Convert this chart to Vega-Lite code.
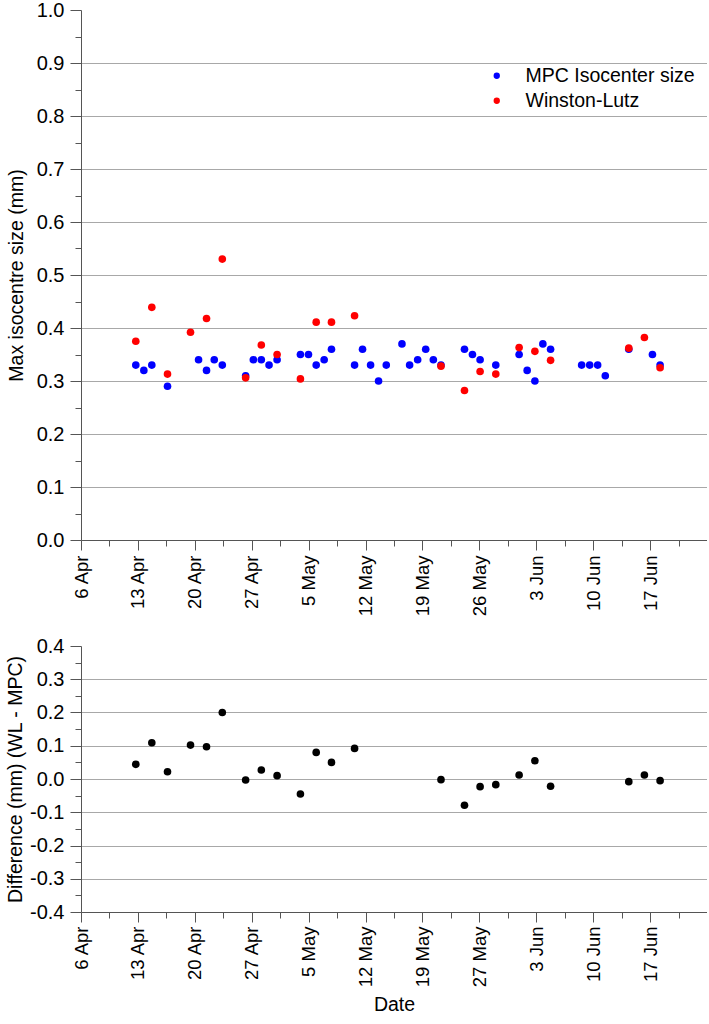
{
  "$schema": "https://vega.github.io/schema/vega-lite/v6.json",
  "padding": {"left": 5, "top": 0, "right": 0, "bottom": 0},
  "spacing": 20,
  "config": {
    "font": "Liberation Sans",
    "view": {"stroke": null},
    "axis": {
      "domainColor": "#555555",
      "tickColor": "#555555",
      "gridColor": "#a8a8a8",
      "gridWidth": 1.2,
      "labelFontSize": 19,
      "titleFontSize": 19.5,
      "labelColor": "#000000",
      "titleColor": "#000000",
      "titleFontWeight": "normal",
      "labelFont": "Liberation Sans",
      "titleFont": "Liberation Sans"
    }
  },
  "datasets": {
    "iso": [
      {"day": 6.74, "series": "MPC Isocenter size", "value": 0.33},
      {"day": 7.73, "series": "MPC Isocenter size", "value": 0.32},
      {"day": 8.71, "series": "MPC Isocenter size", "value": 0.33},
      {"day": 10.64, "series": "MPC Isocenter size", "value": 0.29},
      {"day": 14.46, "series": "MPC Isocenter size", "value": 0.34},
      {"day": 15.44, "series": "MPC Isocenter size", "value": 0.32},
      {"day": 16.39, "series": "MPC Isocenter size", "value": 0.34},
      {"day": 17.38, "series": "MPC Isocenter size", "value": 0.33},
      {"day": 20.25, "series": "MPC Isocenter size", "value": 0.31},
      {"day": 21.2, "series": "MPC Isocenter size", "value": 0.34},
      {"day": 22.18, "series": "MPC Isocenter size", "value": 0.34},
      {"day": 23.13, "series": "MPC Isocenter size", "value": 0.33},
      {"day": 24.12, "series": "MPC Isocenter size", "value": 0.34},
      {"day": 26.99, "series": "MPC Isocenter size", "value": 0.35},
      {"day": 27.98, "series": "MPC Isocenter size", "value": 0.35},
      {"day": 28.93, "series": "MPC Isocenter size", "value": 0.33},
      {"day": 29.91, "series": "MPC Isocenter size", "value": 0.34},
      {"day": 30.81, "series": "MPC Isocenter size", "value": 0.36},
      {"day": 33.65, "series": "MPC Isocenter size", "value": 0.33},
      {"day": 34.63, "series": "MPC Isocenter size", "value": 0.36},
      {"day": 35.62, "series": "MPC Isocenter size", "value": 0.33},
      {"day": 36.6, "series": "MPC Isocenter size", "value": 0.30},
      {"day": 37.55, "series": "MPC Isocenter size", "value": 0.33},
      {"day": 39.48, "series": "MPC Isocenter size", "value": 0.37},
      {"day": 40.42, "series": "MPC Isocenter size", "value": 0.33},
      {"day": 41.41, "series": "MPC Isocenter size", "value": 0.34},
      {"day": 42.4, "series": "MPC Isocenter size", "value": 0.36},
      {"day": 43.34, "series": "MPC Isocenter size", "value": 0.34},
      {"day": 44.28, "series": "MPC Isocenter size", "value": 0.33},
      {"day": 47.17, "series": "MPC Isocenter size", "value": 0.36},
      {"day": 48.15, "series": "MPC Isocenter size", "value": 0.35},
      {"day": 49.09, "series": "MPC Isocenter size", "value": 0.34},
      {"day": 51.02, "series": "MPC Isocenter size", "value": 0.33},
      {"day": 53.89, "series": "MPC Isocenter size", "value": 0.35},
      {"day": 54.88, "series": "MPC Isocenter size", "value": 0.32},
      {"day": 55.83, "series": "MPC Isocenter size", "value": 0.30},
      {"day": 56.81, "series": "MPC Isocenter size", "value": 0.37},
      {"day": 57.76, "series": "MPC Isocenter size", "value": 0.36},
      {"day": 61.58, "series": "MPC Isocenter size", "value": 0.33},
      {"day": 62.57, "series": "MPC Isocenter size", "value": 0.33},
      {"day": 63.55, "series": "MPC Isocenter size", "value": 0.33},
      {"day": 64.49, "series": "MPC Isocenter size", "value": 0.31},
      {"day": 67.38, "series": "MPC Isocenter size", "value": 0.36},
      {"day": 70.29, "series": "MPC Isocenter size", "value": 0.35},
      {"day": 71.23, "series": "MPC Isocenter size", "value": 0.33},
      {"day": 6.74, "series": "Winston-Lutz", "value": 0.375},
      {"day": 8.71, "series": "Winston-Lutz", "value": 0.439},
      {"day": 10.64, "series": "Winston-Lutz", "value": 0.313},
      {"day": 13.47, "series": "Winston-Lutz", "value": 0.392},
      {"day": 15.44, "series": "Winston-Lutz", "value": 0.418},
      {"day": 17.38, "series": "Winston-Lutz", "value": 0.53},
      {"day": 20.25, "series": "Winston-Lutz", "value": 0.306},
      {"day": 22.18, "series": "Winston-Lutz", "value": 0.368},
      {"day": 24.12, "series": "Winston-Lutz", "value": 0.35},
      {"day": 26.99, "series": "Winston-Lutz", "value": 0.304},
      {"day": 28.93, "series": "Winston-Lutz", "value": 0.411},
      {"day": 30.81, "series": "Winston-Lutz", "value": 0.411},
      {"day": 33.65, "series": "Winston-Lutz", "value": 0.423},
      {"day": 44.28, "series": "Winston-Lutz", "value": 0.328},
      {"day": 47.17, "series": "Winston-Lutz", "value": 0.282},
      {"day": 49.09, "series": "Winston-Lutz", "value": 0.318},
      {"day": 51.02, "series": "Winston-Lutz", "value": 0.313},
      {"day": 53.89, "series": "Winston-Lutz", "value": 0.363},
      {"day": 55.83, "series": "Winston-Lutz", "value": 0.356},
      {"day": 57.76, "series": "Winston-Lutz", "value": 0.339},
      {"day": 67.38, "series": "Winston-Lutz", "value": 0.362},
      {"day": 69.3, "series": "Winston-Lutz", "value": 0.382},
      {"day": 71.23, "series": "Winston-Lutz", "value": 0.325}
    ],
    "diff": [
      {"day": 6.74, "diff": 0.044},
      {"day": 8.71, "diff": 0.109},
      {"day": 10.64, "diff": 0.022},
      {"day": 13.47, "diff": 0.102},
      {"day": 15.44, "diff": 0.097},
      {"day": 17.38, "diff": 0.2},
      {"day": 20.25, "diff": -0.003},
      {"day": 22.18, "diff": 0.027},
      {"day": 24.12, "diff": 0.01},
      {"day": 26.99, "diff": -0.045},
      {"day": 28.93, "diff": 0.08},
      {"day": 30.81, "diff": 0.05},
      {"day": 33.65, "diff": 0.092},
      {"day": 44.28, "diff": -0.002},
      {"day": 47.17, "diff": -0.079},
      {"day": 49.09, "diff": -0.023},
      {"day": 51.02, "diff": -0.017},
      {"day": 53.89, "diff": 0.012},
      {"day": 55.83, "diff": 0.055},
      {"day": 57.76, "diff": -0.022},
      {"day": 67.38, "diff": -0.008},
      {"day": 69.3, "diff": 0.012},
      {"day": 71.23, "diff": -0.005}
    ]
  },
  "vconcat": [
    {
      "width": 626,
      "height": 530,
      "data": {"name": "iso"},
      "mark": {"type": "circle", "size": 58, "opacity": 1},
      "encoding": {
        "x": {
          "field": "day",
          "type": "quantitative",
          "scale": {"domain": [0, 77], "nice": false, "zero": false},
          "axis": {
            "title": null,
            "grid": false,
            "values": [0, 3.5, 7, 10.5, 14, 17.5, 21, 24.5, 28, 31.5, 35, 38.5, 42, 45.5, 49, 52.5, 56, 59.5, 63, 66.5, 70, 73.5],
            "labelExpr": "datum.value % 7 == 0 ? ['6 Apr','13 Apr','20 Apr','27 Apr','5 May','12 May','19 May','26 May','3 Jun','10 Jun','17 Jun'][datum.value / 7] : ''",
            "labelAngle": 270,
            "labelAlign": "right",
            "labelBaseline": "middle",
            "labelFontSize": 18.5,
            "labelPadding": 5,
            "tickSize": {"condition": {"test": "datum.value % 7 == 0", "value": 10}, "value": 6}
          }
        },
        "y": {
          "field": "value",
          "type": "quantitative",
          "scale": {"domain": [0, 1], "nice": false},
          "axis": {
            "title": "Max isocentre size (mm)",
            "titlePadding": 10,
            "labelFontSize": 20,
            "values": [0, 0.05, 0.1, 0.15, 0.2, 0.25, 0.3, 0.35, 0.4, 0.45, 0.5, 0.55, 0.6, 0.65, 0.7, 0.75, 0.8, 0.85, 0.9, 0.95, 1.0],
            "labelExpr": "abs(datum.value * 10 - round(datum.value * 10)) < 0.01 ? format(datum.value, '.1f') : ''",
            "labelPadding": 6,
            "grid": true,
            "gridOpacity": {"condition": {"test": "abs(datum.value * 10 - round(datum.value * 10)) < 0.01 && datum.value > 0.01 && datum.value < 0.99", "value": 1}, "value": 0},
            "tickSize": {"condition": {"test": "abs(datum.value * 10 - round(datum.value * 10)) < 0.01", "value": 11}, "value": 6}
          }
        },
        "color": {
          "field": "series",
          "type": "nominal",
          "scale": {"domain": ["MPC Isocenter size", "Winston-Lutz"], "range": ["#0000ff", "#ff0000"]},
          "legend": {
            "title": null,
            "orient": "none",
            "legendX": 406,
            "legendY": 56,
            "labelFontSize": 19.5,
            "labelFont": "Liberation Sans",
            "labelColor": "#000000",
            "labelLimit": 400,
            "symbolType": "circle",
            "symbolSize": 40,
            "symbolStrokeWidth": 0,
            "rowPadding": 4,
            "labelOffset": 19
          }
        }
      }
    },
    {
      "width": 626,
      "height": 266,
      "data": {"name": "diff"},
      "mark": {"type": "circle", "size": 58, "opacity": 1, "color": "#000000"},
      "encoding": {
        "x": {
          "field": "day",
          "type": "quantitative",
          "scale": {"domain": [0, 77], "nice": false, "zero": false},
          "axis": {
            "title": "Date",
            "titlePadding": 9,
            "grid": false,
            "values": [0, 3.5, 7, 10.5, 14, 17.5, 21, 24.5, 28, 31.5, 35, 38.5, 42, 45.5, 49, 52.5, 56, 59.5, 63, 66.5, 70, 73.5],
            "labelExpr": "datum.value % 7 == 0 ? ['6 Apr','13 Apr','20 Apr','27 Apr','5 May','12 May','19 May','27 May','3 Jun','10 Jun','17 Jun'][datum.value / 7] : ''",
            "labelAngle": 270,
            "labelAlign": "right",
            "labelBaseline": "middle",
            "labelFontSize": 18.5,
            "labelPadding": 4,
            "tickSize": {"condition": {"test": "datum.value % 7 == 0", "value": 10}, "value": 6}
          }
        },
        "y": {
          "field": "diff",
          "type": "quantitative",
          "scale": {"domain": [-0.4, 0.4], "nice": false, "zero": false},
          "axis": {
            "title": "Difference (mm) (WL - MPC)",
            "titlePadding": 4,
            "labelFontSize": 20,
            "values": [-0.4, -0.35, -0.3, -0.25, -0.2, -0.15, -0.1, -0.05, 0, 0.05, 0.1, 0.15, 0.2, 0.25, 0.3, 0.35, 0.4],
            "labelExpr": "abs(datum.value * 10 - round(datum.value * 10)) < 0.01 ? (datum.value < -0.001 ? '-' : '') + format(abs(datum.value), '.1f') : ''",
            "labelPadding": 6,
            "grid": true,
            "gridOpacity": {"condition": {"test": "abs(datum.value * 10 - round(datum.value * 10)) < 0.01 && abs(datum.value) < 0.39", "value": 1}, "value": 0},
            "tickSize": {"condition": {"test": "abs(datum.value * 10 - round(datum.value * 10)) < 0.01", "value": 11}, "value": 6}
          }
        }
      }
    }
  ]
}
